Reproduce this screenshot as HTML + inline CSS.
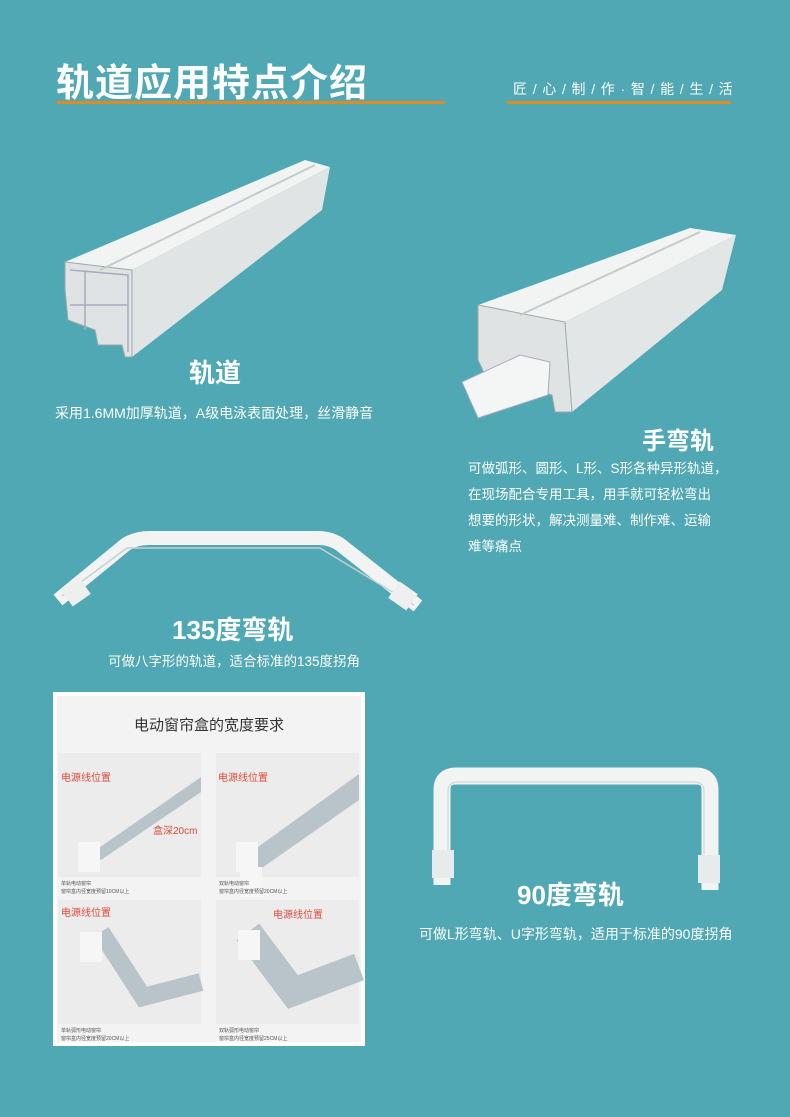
<!DOCTYPE html>
<html><head><meta charset="utf-8"><style>
*{margin:0;padding:0;box-sizing:border-box}
body{width:790px;height:1117px;background:#4fa8b3;position:relative;overflow:hidden;font-family:"Liberation Sans","Noto Sans CJK SC",sans-serif;color:#fff}
.a{position:absolute;white-space:nowrap}
.h{font-weight:bold}
.p{font-size:13.5px;line-height:26px}
</style></head><body>
<div class="a h" style="left:56px;top:52px;font-size:38px;letter-spacing:1px">轨道应用特点介绍</div>
<div class="a" style="left:57px;top:101px;width:388px;height:3px;background:#e08a22"></div>
<div class="a" style="left:513px;top:79px;font-size:14px;letter-spacing:0.9px">匠 / 心 / 制 / 作 · 智 / 能 / 生 / 活</div>
<div class="a" style="left:507px;top:101px;width:224px;height:3px;background:#e08a22"></div>

<svg class="a" style="left:0;top:0" width="790" height="1117">
<polygon points="65,262 305,160 330,167 132,270" fill="#f2f4f4"/>
<polygon points="132,270 330,167 322,210 132,357" fill="#e0e4e5"/>
<polygon points="65,262 132,270 132,357 125,357 122,345 98,345 95,330 68,320 65,290" fill="#dfe3e3" stroke="#9aa" stroke-width="1"/>
<polyline points="70,270 128,275 128,352" fill="none" stroke="#aab" stroke-width="1.5"/>
<line x1="85" y1="272" x2="85" y2="330" stroke="#aab" stroke-width="1.5"/>
<line x1="70" y1="305" x2="128" y2="305" stroke="#aab" stroke-width="1.5"/>
<line x1="100" y1="270" x2="315" y2="165" stroke="#c5cbcc" stroke-width="2"/>
<polygon points="478,305 690,228 736,235 565,322" fill="#f2f4f4"/>
<polygon points="565,322 736,235 722,290 572,412" fill="#e3e6e7"/>
<polygon points="478,305 565,322 572,412 555,412 552,395 485,375 478,360" fill="#dfe3e3" stroke="#9aa" stroke-width="1"/>
<polygon points="462,382 520,355 550,362 548,395 478,418" fill="#f4f6f6" stroke="#aab" stroke-width="1"/>
<line x1="520" y1="315" x2="700" y2="232" stroke="#c5cbcc" stroke-width="2"/>
<path d="M58,600 L125,545 Q135,538 150,538 L318,538 Q332,538 342,546 L418,606" fill="none" stroke="#f2f4f4" stroke-width="14" stroke-linejoin="round"/>
<path d="M62,596 L127,548 L320,548 L414,605" fill="none" stroke="#c8cfd0" stroke-width="1.5"/>
<rect x="65" y="582" width="22" height="20" fill="#eef0f0" transform="rotate(-35 76 592)"/>
<rect x="392" y="586" width="22" height="20" fill="#eef0f0" transform="rotate(35 403 596)"/>
<path d="M442,885 L442,790 Q442,776 456,776 L696,776 Q710,776 710,790 L710,890" fill="none" stroke="#f2f4f4" stroke-width="17"/>
<path d="M448,860 L448,792 Q448,782 458,782 L694,782 Q704,782 704,792 L704,860" fill="none" stroke="#d0d6d7" stroke-width="1.2"/>
<rect x="432" y="850" width="22" height="28" fill="#e8ebeb"/>
<rect x="698" y="855" width="22" height="28" fill="#e8ebeb"/>
</svg>

<div class="a h" style="left:189px;top:353px;font-size:26px">轨道</div>
<div class="a p" style="left:55px;top:400px;font-size:14px">采用1.6MM加厚轨道，A级电泳表面处理，丝滑静音</div>
<div class="a h" style="left:642px;top:421px;font-size:24px">手弯轨</div>
<div class="a p" style="left:468px;top:456px;white-space:normal;width:280px">可做弧形、圆形、L形、S形各种异形轨道，<br>在现场配合专用工具，用手就可轻松弯出<br>想要的形状，解决测量难、制作难、运输<br>难等痛点</div>
<div class="a h" style="left:172px;top:610px;font-size:26px">135度弯轨</div>
<div class="a p" style="left:108px;top:649px">可做八字形的轨道，适合标准的135度拐角</div>
<div class="a h" style="left:517px;top:875px;font-size:26px">90度弯轨</div>
<div class="a p" style="left:419px;top:921px;font-size:14px">可做L形弯轨、U字形弯轨，适用于标准的90度拐角</div>

<div class="a" style="left:53px;top:692px;width:312px;height:354px;background:#fff">
 <div class="a" style="left:4px;top:4px;width:304px;height:346px;background:#f3f3f3"></div>
 <div class="a" style="left:0;top:22px;width:312px;text-align:center;font-size:15px;color:#333">电动窗帘盒的宽度要求</div>
 <div class="a" style="left:5px;top:61px;width:143px;height:124px;background:#ececec"></div>
 <div class="a" style="left:163px;top:61px;width:143px;height:124px;background:#ececec"></div>
 <div class="a" style="left:5px;top:208px;width:143px;height:124px;background:#ececec"></div>
 <div class="a" style="left:163px;top:208px;width:143px;height:124px;background:#ececec"></div>
 <svg class="a" style="left:0;top:0" width="312" height="354">
  <polygon points="40,160 148,85 148,100 48,168" fill="#b9c3ca"/>
  <polygon points="198,160 306,82 306,108 206,178" fill="#b9c3ca"/>
  <polyline points="48,240 90,305 148,290" fill="none" stroke="#b9c3ca" stroke-width="18"/>
  <polyline points="195,240 240,300 306,275" fill="none" stroke="#b9c3ca" stroke-width="28"/>
  <rect x="25" y="150" width="22" height="30" fill="#f6f6f6"/>
  <rect x="183" y="150" width="22" height="30" fill="#f6f6f6"/>
  <rect x="187" y="175" width="22" height="30" fill="#f6f6f6"/>
  <rect x="27" y="240" width="22" height="30" fill="#f6f6f6"/>
  <rect x="185" y="238" width="22" height="30" fill="#f6f6f6"/>
 </svg>
 <div class="a" style="left:8px;top:77px;font-size:10px;color:#e04b3b">电源线位置</div>
 <div class="a" style="left:100px;top:130px;font-size:10px;color:#e04b3b">盒深20cm</div>
 <div class="a" style="left:165px;top:77px;font-size:10px;color:#e04b3b">电源线位置</div>
 <div class="a" style="left:8px;top:212px;font-size:10px;color:#e04b3b">电源线位置</div>
 <div class="a" style="left:220px;top:214px;font-size:10px;color:#e04b3b">电源线位置</div>
 <div class="a" style="left:8px;top:188px;font-size:5px;line-height:8px;color:#555">单轨电动窗帘<br>窗帘盒内径宽度预留10CM以上</div>
 <div class="a" style="left:166px;top:188px;font-size:5px;line-height:8px;color:#555">双轨电动窗帘<br>窗帘盒内径宽度预留20CM以上</div>
 <div class="a" style="left:8px;top:335px;font-size:5px;line-height:8px;color:#555">单轨弧形电动窗帘<br>窗帘盒内径宽度预留20CM以上</div>
 <div class="a" style="left:166px;top:335px;font-size:5px;line-height:8px;color:#555">双轨弧形电动窗帘<br>窗帘盒内径宽度预留25CM以上</div>
</div>
</body></html>
